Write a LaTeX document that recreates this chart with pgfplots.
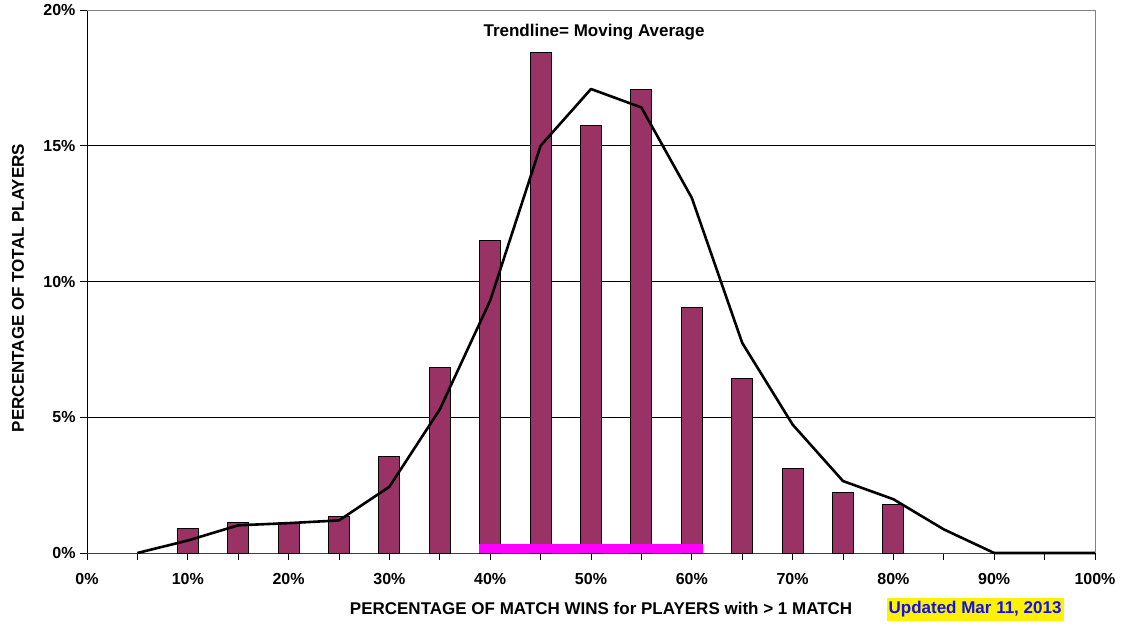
\documentclass[border=0pt]{standalone}
\usepackage{fontspec}
\setmainfont{Liberation Sans}
\usepackage{pgfplots}
\pgfplotsset{compat=1.18}
\definecolor{barcol}{HTML}{993366}
\definecolor{updblue}{HTML}{1010F0}
\definecolor{band}{HTML}{FF00FF}
\begin{document}
\begin{tikzpicture}
\useasboundingbox (0,0) rectangle (1124bp,626bp);
\begin{axis}[
    at={(87bp,73bp)}, anchor=south west,
    scale only axis, width=1008bp, height=543bp,
    xmin=0, xmax=100, ymin=0, ymax=20,
    clip=false,
    axis x line*=bottom, axis y line*=left,
    x axis line style={draw=black!75, line width=0.9bp},
    y axis line style={draw=black, line width=0.9bp},
    xtick={0,10,...,100},
    xticklabels={0\%,10\%,20\%,30\%,40\%,50\%,60\%,70\%,80\%,90\%,100\%},
    minor xtick={5,15,...,95},
    ytick={0,5,10,15,20},
    yticklabels={0\%,5\%,10\%,15\%,20\%},
    tick align=outside,
    major tick length=7bp, minor tick length=7bp,
    tick style={black, line width=0.8bp},
    ymajorgrids, major grid style={black, line width=0.7bp},
    ticklabel style={font=\bfseries\fontsize{16bp}{18bp}\selectfont},
    xticklabel style={yshift=-10bp},
    yticklabel style={xshift=-1bp},
    xlabel={PERCENTAGE OF MATCH WINS for PLAYERS with > 1 MATCH},
    xlabel style={at={(axis description cs:0.51,0)}, anchor=center, yshift=-55bp,
      font=\bfseries\fontsize{17bp}{19bp}\selectfont},
]
% histogram bars
\addplot[ybar, bar width=21bp, fill=barcol, draw=black, line width=0.9bp]
coordinates {
(10,0.89)(15,1.11)(20,1.14)(25,1.34)(30,3.54)(35,6.84)(40,11.51)(45,18.43)
(50,15.74)(55,17.08)(60,9.06)(65,6.42)(70,3.10)(75,2.22)(80,1.77)
};
% moving average trendline
\addplot[black, line width=2.6bp, line join=round]
coordinates {
(5,0)(10,0.46)(15,1.02)(20,1.10)(25,1.20)(30,2.44)(35,5.29)(40,9.3)(45,15.0)
(50,17.09)(55,16.41)(60,13.08)(65,7.74)(70,4.73)(75,2.65)(80,1.98)(85,0.87)
(90,0)(95,0)(100,0)
};
% magenta band
\addplot[fill=band, draw=none]
coordinates {(38.9,0)(38.9,0.34)(61.1,0.34)(61.1,0)} -- cycle;
% gray top and right border
\draw[gray, line width=0.9bp] (rel axis cs:0,1) -- (rel axis cs:1,1) -- (rel axis cs:1,0);
\node[font=\bfseries\fontsize{17bp}{19bp}\selectfont]
  at (axis description cs:0.503,1) [yshift=-22bp] {Trendline= Moving Average};
\node[rotate=90, font=\bfseries\fontsize{17bp}{19bp}\selectfont]
  at ([xshift=-69bp]axis description cs:0,0.488) {PERCENTAGE OF TOTAL PLAYERS};
\node[fill=yellow, text=updblue, inner xsep=2bp, inner ysep=3.5bp,
  font=\bfseries\fontsize{17bp}{19bp}\selectfont]
  at (axis description cs:0.881,0) [yshift=-56.5bp] {Updated Mar 11, 2013};
\end{axis}
\end{tikzpicture}
\end{document}
